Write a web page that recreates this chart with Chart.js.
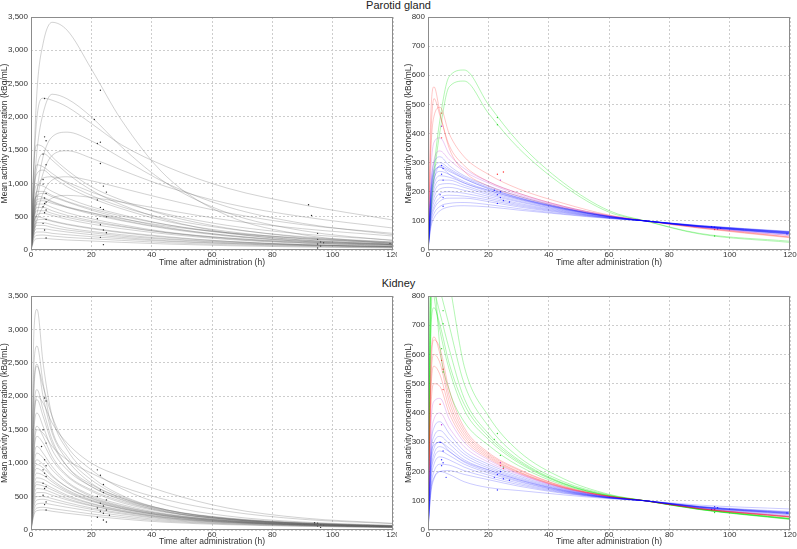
<!DOCTYPE html>
<html>
<head>
<meta charset="utf-8">
<script src="https://cdn.jsdelivr.net/npm/chart.js@4.4.0/dist/chart.umd.min.js"></script>
<style>
  body { margin: 0; background: #fff; width: 797px; height: 549px; position: relative; overflow: hidden;
         font-family: "Liberation Sans", Arial, sans-serif; }
  .box { position: absolute; }
  .ttl { position: absolute; left: 0; width: 797px; text-align: center; font-size: 11px; color: #222; }
</style>
</head>
<body>
<div class="ttl" style="top:-1px">Parotid gland</div>
<div class="ttl" style="top:277px">Kidney</div>
<div class="box" style="left:0;top:0;width:397px;height:272px"><canvas id="parotidAbs"></canvas></div>
<div class="box" style="left:397px;top:0;width:400px;height:272px"><canvas id="parotidRel"></canvas></div>
<div class="box" style="left:0;top:274px;width:397px;height:275px"><canvas id="kidneyAbs"></canvas></div>
<div class="box" style="left:397px;top:274px;width:400px;height:275px"><canvas id="kidneyRel"></canvas></div>
<script>
// sample times (h) the curves were read at
const absTimes = [0, 1, 2, 4, 7, 12, 20, 30, 45, 65, 90, 120];
const normTimes = [0, 1, 2, 4, 7, 12, 20, 30, 45, 60, 72, 90, 120];

// parotid gland, kBq/mL
const parotidCurves = [
  [0, 1400, 2400, 3100, 3420, 3300, 2720, 1950, 1100, 520, 230, 100],
  [0, 900, 1500, 2050, 2340, 2270, 2000, 1550, 1000, 560, 290, 140],
  [0, 1300, 2000, 2280, 2250, 2150, 1900, 1580, 1250, 930, 680, 450],
  [0, 500, 900, 1400, 1700, 1770, 1640, 1380, 1000, 650, 400, 230],
  [0, 400, 750, 1150, 1420, 1490, 1380, 1200, 950, 700, 500, 330],
  [0, 1300, 1580, 1550, 1400, 1200, 950, 750, 520, 330, 190, 100],
  [0, 900, 1250, 1450, 1350, 1150, 900, 680, 450, 260, 150, 80],
  [0, 1050, 1280, 1250, 1150, 1000, 820, 650, 470, 320, 200, 120],
  [0, 900, 1150, 1200, 1100, 950, 780, 620, 430, 280, 170, 100],
  [0, 600, 900, 1080, 1100, 1020, 870, 720, 540, 370, 240, 150],
  [0, 300, 550, 850, 1050, 1100, 1040, 930, 760, 560, 380, 250],
  [0, 800, 980, 960, 880, 780, 650, 530, 380, 250, 150, 90],
  [0, 700, 880, 880, 820, 730, 620, 510, 380, 260, 170, 110],
  [0, 250, 450, 650, 780, 820, 790, 720, 600, 450, 320, 210],
  [0, 650, 820, 850, 800, 720, 600, 480, 340, 220, 130, 80],
  [0, 700, 810, 790, 730, 650, 560, 450, 330, 220, 140, 90],
  [0, 600, 760, 770, 720, 640, 540, 440, 320, 210, 130, 80],
  [0, 550, 720, 740, 700, 640, 560, 470, 360, 260, 180, 120],
  [0, 550, 690, 690, 640, 560, 470, 380, 270, 180, 110, 70],
  [0, 500, 640, 640, 590, 520, 440, 360, 260, 170, 110, 70],
  [0, 480, 590, 590, 550, 490, 420, 350, 260, 180, 120, 80],
  [0, 400, 530, 550, 520, 460, 390, 320, 240, 160, 100, 60],
  [0, 420, 500, 480, 440, 390, 330, 270, 200, 130, 80, 50],
  [0, 350, 450, 460, 430, 380, 320, 260, 190, 130, 80, 50],
  [0, 330, 410, 410, 380, 330, 280, 230, 170, 120, 80, 50],
  [0, 300, 370, 370, 340, 300, 260, 210, 160, 110, 75, 50],
  [0, 260, 320, 320, 300, 270, 230, 190, 140, 100, 70, 45],
  [0, 220, 270, 270, 250, 230, 200, 170, 130, 95, 65, 45],
  [0, 180, 220, 225, 210, 190, 170, 145, 110, 80, 55, 35],
  [0, 140, 170, 175, 165, 150, 135, 115, 90, 65, 45, 30]
];
const parotidDots = [
  [4.5, 2275], [4, 1440], [4.5, 1700], [5, 1640], [5, 1280], [4, 1060], [4, 990], [5, 850],
  [4.5, 780], [5, 720], [4.5, 700], [4, 650], [5, 600], [4.5, 560], [5, 460], [4, 400],
  [4.5, 300], [5, 180], [21, 1960], [23, 2400], [23, 1620], [22, 1600], [23, 1300], [24, 960],
  [25, 870], [22, 750], [23, 640], [24, 610], [25, 500], [22, 470], [23, 380], [24, 300],
  [25, 260], [23, 190], [24, 80], [92, 680], [93, 520], [95, 250], [95, 160], [96, 120],
  [95, 90], [97, 110], [96, 60], [95, 30], [119, 100]
];

// parotid gland, relative to the 72 h value (%)
const parotidBlue = [
  [0, 220, 300, 320, 290, 255, 220, 185, 145, 116, 100, 80, 55],
  [0, 200, 280, 300, 280, 250, 215, 180, 143, 115, 100, 80, 56],
  [0, 190, 260, 285, 270, 245, 210, 178, 142, 115, 100, 81, 57],
  [0, 180, 245, 270, 260, 235, 205, 175, 140, 114, 100, 81, 58],
  [0, 160, 225, 255, 250, 230, 200, 172, 139, 114, 100, 81, 58],
  [0, 150, 210, 240, 240, 222, 195, 168, 137, 113, 100, 82, 59],
  [0, 140, 195, 225, 228, 215, 190, 165, 135, 112, 100, 82, 60],
  [0, 130, 180, 210, 215, 205, 184, 160, 133, 111, 100, 82, 60],
  [0, 120, 165, 195, 200, 195, 178, 156, 131, 111, 100, 83, 61],
  [0, 110, 150, 180, 188, 185, 172, 152, 129, 110, 100, 83, 62],
  [0, 100, 140, 168, 178, 178, 166, 148, 127, 110, 100, 83, 62],
  [0, 90, 125, 150, 160, 163, 156, 142, 124, 109, 100, 84, 63],
  [0, 80, 110, 135, 148, 152, 148, 137, 122, 108, 100, 84, 64],
  [0, 170, 240, 290, 275, 245, 212, 180, 143, 115, 100, 80, 55],
  [0, 200, 270, 285, 260, 230, 205, 176, 141, 114, 100, 80, 54]
];
const parotidPurple = [
  [0, 280, 370, 385, 330, 280, 235, 195, 150, 118, 100, 78, 50],
  [0, 230, 310, 340, 310, 270, 230, 190, 148, 117, 100, 78, 50]
];
const parotidRed = [
  [0, 480, 560, 470, 350, 270, 220, 185, 145, 115, 100, 78, 45],
  [0, 400, 520, 460, 360, 290, 235, 195, 150, 118, 100, 76, 44],
  [0, 350, 460, 490, 400, 320, 260, 210, 160, 120, 100, 75, 42]
];
const parotidGreen = [
  [0, 150, 280, 450, 595, 618, 500, 370, 230, 135, 100, 55, 26],
  [0, 130, 250, 410, 560, 580, 470, 350, 220, 130, 100, 57, 30]
];
const parotidBlueDots = [
  [4.5, 290], [5, 280], [4.5, 260], [5, 240], [4, 190], [5, 180], [5, 150], [22, 205], [23, 190],
  [24, 180], [25, 170], [23, 160], [27, 165], [24, 200], [95, 78], [96, 72], [97, 75], [94, 80], [119, 55]
];
const parotidPurpleDots = [[4.5, 425], [24, 240]];
const parotidRedDots = [[4.5, 470], [4.5, 385], [25, 268], [23, 260], [95, 70]];
const parotidGreenDots = [[23, 455], [23, 430], [95, 48]];

// kidney, kBq/mL
const kidneyCurves = [
  [0, 3000, 3300, 2500, 1700, 1200, 800, 520, 300, 170, 100, 60],
  [0, 2500, 2750, 2200, 1500, 1100, 750, 500, 300, 170, 100, 60],
  [0, 2200, 2480, 2000, 1450, 1050, 700, 480, 280, 160, 95, 55],
  [0, 2100, 2450, 2150, 1700, 1250, 900, 620, 370, 210, 120, 70],
  [0, 1600, 2000, 1900, 1600, 1300, 1000, 800, 560, 330, 180, 100],
  [0, 1800, 2100, 1800, 1350, 950, 650, 450, 270, 160, 95, 55],
  [0, 1700, 1950, 1700, 1300, 950, 680, 480, 300, 180, 110, 65],
  [0, 1500, 1750, 1550, 1200, 900, 650, 460, 290, 175, 105, 60],
  [0, 1200, 1500, 1450, 1250, 1050, 850, 650, 450, 280, 160, 95],
  [0, 1300, 1550, 1400, 1100, 820, 600, 430, 270, 165, 100, 60],
  [0, 1150, 1400, 1300, 1050, 800, 580, 410, 260, 160, 95, 55],
  [0, 1050, 1250, 1150, 950, 720, 520, 380, 240, 150, 90, 55],
  [0, 950, 1150, 1080, 900, 700, 500, 360, 230, 140, 85, 50],
  [0, 900, 1050, 980, 820, 640, 470, 340, 220, 140, 85, 50],
  [0, 850, 980, 930, 800, 640, 480, 350, 230, 145, 90, 55],
  [0, 800, 920, 870, 750, 600, 450, 330, 215, 135, 85, 50],
  [0, 720, 850, 820, 720, 580, 440, 320, 210, 130, 80, 50],
  [0, 650, 780, 760, 680, 560, 430, 320, 210, 130, 80, 50],
  [0, 600, 720, 700, 630, 520, 400, 300, 200, 125, 80, 50],
  [0, 560, 680, 660, 600, 500, 390, 290, 190, 120, 75, 45],
  [0, 500, 620, 610, 560, 470, 370, 280, 185, 120, 75, 45],
  [0, 450, 560, 560, 520, 450, 360, 275, 180, 115, 75, 45],
  [0, 400, 500, 500, 470, 410, 330, 255, 170, 110, 70, 45],
  [0, 350, 450, 460, 430, 380, 310, 240, 160, 105, 70, 45],
  [0, 300, 390, 400, 380, 340, 280, 215, 145, 95, 65, 40],
  [0, 260, 330, 340, 320, 290, 240, 190, 130, 90, 60, 40],
  [0, 230, 290, 300, 280, 250, 210, 165, 115, 80, 55, 35]
];
const kidneyDots = [
  [4.5, 1975], [5, 1930], [4, 1500], [5, 1300], [3.5, 1250], [4.5, 1050], [5, 960], [4, 900],
  [4.5, 850], [5, 800], [4, 700], [5, 650], [4.5, 620], [4, 520], [5, 420], [4.5, 380], [5, 300],
  [22, 900], [23, 820], [24, 680], [23, 600], [24, 560], [22, 500], [25, 450], [23, 400], [24, 360],
  [22, 330], [25, 300], [23, 280], [24, 250], [26, 220], [22, 190], [24, 150], [25, 120],
  [94, 110], [95, 100], [96, 80], [95, 60], [97, 70], [94, 90], [96, 40]
];

// kidney, relative to the 72 h value (%)
const kidneyBlue = [
  [0, 280, 350, 370, 330, 270, 225, 185, 140, 112, 100, 76, 52],
  [0, 260, 320, 340, 310, 260, 218, 180, 138, 112, 100, 77, 54],
  [0, 240, 300, 320, 295, 250, 212, 176, 136, 111, 100, 78, 56],
  [0, 220, 280, 300, 280, 240, 206, 172, 134, 111, 100, 78, 57],
  [0, 200, 260, 285, 268, 232, 200, 168, 132, 110, 100, 79, 58],
  [0, 190, 245, 270, 255, 225, 195, 165, 131, 110, 100, 79, 59],
  [0, 170, 225, 250, 240, 215, 188, 160, 129, 110, 100, 80, 60],
  [0, 150, 200, 225, 222, 203, 180, 155, 127, 109, 100, 80, 61],
  [0, 130, 175, 200, 203, 190, 172, 150, 125, 109, 100, 81, 63],
  [0, 140, 180, 200, 190, 165, 145, 135, 120, 107, 100, 85, 72],
  [0, 240, 290, 300, 270, 235, 205, 172, 135, 111, 100, 78, 56]
];
const kidneyPurple = [
  [0, 360, 440, 450, 380, 300, 240, 193, 143, 114, 100, 74, 47],
  [0, 300, 380, 400, 350, 285, 232, 190, 142, 113, 100, 75, 48]
];
const kidneyRed = [
  [0, 600, 660, 600, 460, 340, 260, 205, 148, 115, 100, 73, 44],
  [0, 520, 600, 570, 440, 330, 255, 200, 146, 115, 100, 73, 45],
  [0, 480, 560, 530, 420, 320, 250, 198, 145, 114, 100, 73, 45],
  [0, 420, 500, 490, 400, 310, 245, 195, 144, 114, 100, 74, 46],
  [0, 550, 650, 620, 480, 350, 265, 208, 149, 115, 100, 73, 44]
];
const kidneyGreen = [
  [0, 700, 950, 1000, 850, 560, 390, 270, 175, 122, 100, 70, 36],
  [0, 800, 900, 820, 700, 500, 355, 250, 165, 120, 100, 70, 37],
  [0, 850, 820, 740, 620, 450, 330, 240, 160, 118, 100, 71, 38],
  [0, 900, 800, 680, 550, 410, 310, 230, 157, 117, 100, 71, 39],
  [0, 700, 760, 700, 570, 430, 320, 235, 158, 117, 100, 71, 38],
  [0, 950, 880, 620, 480, 370, 290, 220, 153, 116, 100, 72, 40]
];
const kidneyBlueDots = [
  [4, 300], [5, 270], [4.5, 240], [5, 230], [4.5, 220], [6, 180], [22, 180], [23, 190], [24, 200],
  [25, 175], [27, 170], [23, 137], [95, 80], [96, 76], [94, 70], [119, 58]
];
const kidneyPurpleDots = [[4.5, 360], [24, 230]];
const kidneyRedDots = [[4.5, 580], [5, 550], [5, 480], [4, 430], [24, 220], [25, 210], [95, 70]];
const kidneyGreenDots = [[5, 750], [5, 705], [4.5, 620], [5, 540], [23, 330], [22, 310], [24, 255], [25, 215], [95, 60]];

const FONT = '"Liberation Sans", Arial, sans-serif';
const GRAY = 'rgba(95,95,95,0.38)';
const BLUE = 'rgba(0,0,255,0.28)';
const PURPLE = 'rgba(170,0,210,0.28)';
const RED = 'rgba(255,0,0,0.3)';
const GREEN = 'rgba(0,225,0,0.4)';

function lineSets(times, curves, color) {
  return curves.map(c => ({
    data: c.map((v, i) => ({ x: times[i], y: v })),
    borderColor: color,
    borderWidth: 0.75,
    pointRadius: 0,
    cubicInterpolationMode: 'monotone',
    fill: false
  }));
}

function dotSet(dots, color) {
  return {
    data: dots.map(d => ({ x: d[0], y: d[1] })),
    showLine: false,
    pointRadius: 0.7,
    pointBorderWidth: 0,
    pointBackgroundColor: color
  };
}

const frame = {
  id: 'frame',
  afterDraw(chart) {
    const a = chart.chartArea, ctx = chart.ctx;
    ctx.save();
    ctx.strokeStyle = '#8c8c8c';
    ctx.lineWidth = 1;
    ctx.strokeRect(a.left + 0.5, a.top + 0.5, a.right - a.left - 1, a.bottom - a.top - 1);
    ctx.restore();
  }
};

function makePanel(id, datasets, yMax, yStep, pad, xHeight, yTitlePad) {
  new Chart(document.getElementById(id), {
    type: 'line',
    data: { datasets: datasets },
    plugins: [frame],
    options: {
      responsive: true,
      maintainAspectRatio: false,
      animation: false,
      layout: { padding: pad },
      plugins: { legend: { display: false }, tooltip: { enabled: false } },
      scales: {
        x: {
          type: 'linear', min: 0, max: 120,
          ticks: { stepSize: 20, padding: 0, maxRotation: 0, color: '#333', font: { family: FONT, size: 8 } },
          grid: { color: '#cdcdcd', drawTicks: false },
          border: { display: false, dash: [2, 2] },
          title: { display: true, text: 'Time after administration (h)', color: '#333',
                   font: { family: FONT, size: 8.5 }, padding: { top: 0, bottom: pad.bottom === 0 ? 2 : 0 } },
          afterFit: s => { s.height = xHeight; s.paddingLeft = 0; s.paddingRight = 0; }
        },
        y: {
          min: 0, max: yMax,
          ticks: { stepSize: yStep, padding: 3, color: '#333', font: { family: FONT, size: 8 },
                   callback: v => v.toLocaleString('en-US') },
          grid: { color: '#cdcdcd', drawTicks: false },
          border: { display: false, dash: [2, 2] },
          title: { display: true, text: 'Mean activity concentration (kBq/mL)', color: '#333',
                   font: { family: FONT, size: 8.5 }, padding: { top: yTitlePad, bottom: 0 } },
          afterFit: s => { s.width = 31; }
        }
      }
    }
  });
}

makePanel('parotidAbs',
  lineSets(absTimes, parotidCurves, GRAY).concat([dotSet(parotidDots, '#222')]),
  3500, 500, { top: 17, right: 4, left: 0, bottom: 4 }, 18, 0);

makePanel('parotidRel',
  lineSets(normTimes, parotidBlue, BLUE)
    .concat(lineSets(normTimes, parotidPurple, PURPLE))
    .concat(lineSets(normTimes, parotidRed, RED))
    .concat(lineSets(normTimes, parotidGreen, GREEN))
    .concat([dotSet(parotidBlueDots, 'rgba(0,0,255,0.8)'), dotSet(parotidPurpleDots, 'rgba(170,0,210,0.8)'),
             dotSet(parotidRedDots, 'rgba(255,0,0,0.8)'), dotSet(parotidGreenDots, 'rgba(0,200,0,0.8)')]),
  800, 100, { top: 17, right: 7, left: 0, bottom: 4 }, 18, 7);

makePanel('kidneyAbs',
  lineSets(absTimes, kidneyCurves, GRAY).concat([dotSet(kidneyDots, '#222')]),
  3500, 500, { top: 22, right: 4, left: 0, bottom: 0 }, 19, 0);

makePanel('kidneyRel',
  lineSets(normTimes, kidneyBlue, BLUE)
    .concat(lineSets(normTimes, kidneyPurple, PURPLE))
    .concat(lineSets(normTimes, kidneyRed, RED))
    .concat(lineSets(normTimes, kidneyGreen, GREEN))
    .concat([dotSet(kidneyBlueDots, 'rgba(0,0,255,0.8)'), dotSet(kidneyPurpleDots, 'rgba(170,0,210,0.8)'),
             dotSet(kidneyRedDots, 'rgba(255,0,0,0.8)'), dotSet(kidneyGreenDots, 'rgba(0,200,0,0.8)')]),
  800, 100, { top: 22, right: 7, left: 0, bottom: 0 }, 19, 7);
</script>
</body>
</html>
